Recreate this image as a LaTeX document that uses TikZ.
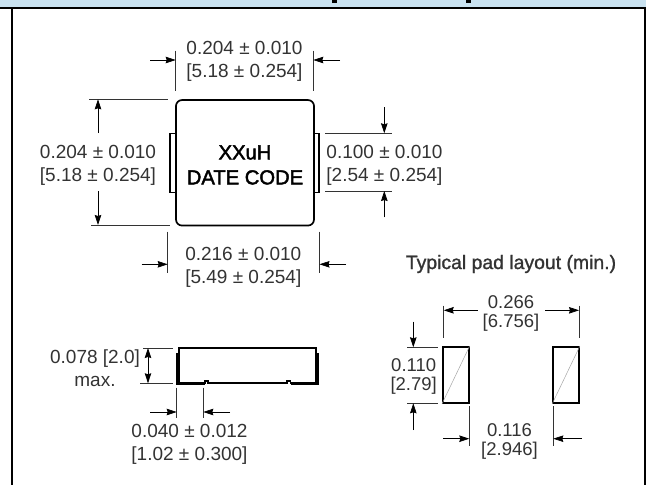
\documentclass[tikz,border=0pt]{standalone}
\usepackage{fontspec}
\setmainfont{Liberation Sans}
\newfontfamily\medfont[FakeBold=2.2]{Liberation Sans}
\newfontfamily\titlefont[FakeBold=1.2]{Liberation Sans}
\usetikzlibrary{arrows.meta}
\usetikzlibrary{positioning}
\definecolor{headblue}{HTML}{C9E2F0}
\definecolor{dimgrey}{HTML}{333333}
\begin{document}
\begin{tikzpicture}
        [x=1pt, y=-1pt,
         dim/.style={draw=none, fill=none, text=dimgrey, inner sep=0pt, align=center,
                     font=\fontsize{19}{23}\selectfont},
         tight/.style={dim, font=\fontsize{18.5}{19}\selectfont},
         head/.style={draw=none, inner sep=0pt, align=center, text=black,
                      font=\medfont\fontsize{20.2}{25}\selectfont},
         guide/.style={draw=dimgrey, line width=0.8pt},
         body/.style={draw=black, line width=1.7pt},
         pad/.style={draw=black, line width=1.6pt, fill=white, minimum width=26pt,
                     minimum height=56pt, inner sep=0pt},
         dimarrow/.style={-{Stealth[length=10pt,width=6.5pt,inset=1pt]}, draw=black, line width=0.7pt}]
        \useasboundingbox (0,0) rectangle (646,485);
        % frame
        \fill [headblue] (0,0) rectangle (646,7);
        \fill (331.7,0) rectangle (337.3,2.5);
        \fill (465.7,0) rectangle (470.7,2.5);
        \draw [line width=2pt] (0,7.5) -- (646,7.5);
        \draw [line width=2pt] (11.5,7) -- (11.5,485);
        \draw [line width=2pt] (645,7) -- (645,485);

        % top view
        \draw [line width=1.3pt] (176,133.5) -- (170,133.5) -- (170,192.5) -- (176,192.5);
        \draw [line width=1.3pt] (314,133.5) -- (319,133.5) -- (319,192.5) -- (314,192.5);
        \node [body, minimum width=138pt, minimum height=125.5pt, rounded corners=6pt, inner sep=0pt,
               fill=white] (case) at (245,162.8) { };
        \node [head] (mark) at (245,165) {XXuH\\DATE CODE};

        \node [dim] (topw) at (244.5,61) {0.204 ± 0.010\\{}[5.18 ± 0.254]};
        \coordinate (tl) at (175.7,50.5); \coordinate (tlb) at (175.7,90.5);
        \coordinate (tr) at (313.3,50.5); \coordinate (trb) at (313.3,90.5);
        \draw [guide] (tl) -- (tlb);
        \draw [guide] (tr) -- (trb);
        \coordinate (ta) at (150,60); \coordinate (tb) at (340,60);
        \draw [dimarrow] (ta) -- (tl |- ta);
        \draw [dimarrow] (tb) -- (tr |- tb);

        \node [dim] (leftw) at (98,165) {0.204 ± 0.010\\{}[5.18 ± 0.254]};
        \coordinate (la) at (89,99.3); \coordinate (lb) at (168,99.3);
        \coordinate (lc) at (91,225); \coordinate (ld) at (170,225);
        \draw [guide] (la) -- (lb);
        \draw [guide] (lc) -- (ld);
        \coordinate (lup) at (98,133); \coordinate (ldn) at (98,191);
        \draw [dimarrow] (lup) -- (lup |- la);
        \draw [dimarrow] (ldn) -- (ldn |- lc);

        \node [dim] (botw) at (243.3,267) {0.216 ± 0.010\\{}[5.49 ± 0.254]};
        \coordinate (bl) at (167.7,231.7); \coordinate (blb) at (167.7,272.7);
        \coordinate (br) at (319.5,231.7); \coordinate (brb) at (319.5,272.7);
        \draw [guide] (bl) -- (blb);
        \draw [guide] (br) -- (brb);
        \coordinate (ba) at (141.7,264.3); \coordinate (bb) at (346,264.3);
        \draw [dimarrow] (ba) -- (bl |- ba);
        \draw [dimarrow] (bb) -- (br |- bb);

        \node [dim] (tabw) at (384.5,165) {0.100 ± 0.010\\{}[2.54 ± 0.254]};
        \coordinate (ra) at (325,133.3); \coordinate (rb) at (391.7,133.3);
        \coordinate (rc) at (325,191); \coordinate (rd) at (391.7,191);
        \draw [guide] (ra) -- (rb);
        \draw [guide] (rc) -- (rd);
        \coordinate (rup) at (384.3,107.3); \coordinate (rdn) at (384.3,217.3);
        \draw [dimarrow] (rup) -- (rup |- ra);
        \draw [dimarrow] (rdn) -- (rdn |- rc);

        % side view
        \draw [body] (179,347.7) -- (179,382.7) -- (205,382.7) -- (205,381) -- (208,381) -- (208,382.7)
                     -- (287,382.7) -- (287,381) -- (290.5,381) -- (290.5,382.7) -- (316,382.7) -- (316,347.7) -- cycle;
        \draw [line width=2pt] (177,353) -- (177,384) -- (205,384);
        \draw [line width=2pt] (317.5,353) -- (317.5,384) -- (290.5,384);

        \node [dim] (height) at (95,368) {0.078 [2.0]\\max.};
        \coordinate (ha) at (143,348); \coordinate (hb) at (173.3,348);
        \coordinate (hc) at (140,383.3); \coordinate (hd) at (173.3,383.3);
        \draw [guide] (ha) -- (hb);
        \draw [guide] (hc) -- (hd);
        \draw [{Stealth[length=10pt,width=6.5pt,inset=1pt]}-{Stealth[length=10pt,width=6.5pt,inset=1pt]},
               draw=black, line width=0.7pt] (148,348) -- (148,383.3);

        \node [dim] (foot) at (189.5,444.5) {0.040 ± 0.012\\{}[1.02 ± 0.300]};
        \coordinate (fa) at (176.7,387.7); \coordinate (fb) at (176.7,417.7);
        \coordinate (fc) at (203.3,387.7); \coordinate (fd) at (203.3,417.7);
        \draw [guide] (fa) -- (fb);
        \draw [guide] (fc) -- (fd);
        \coordinate (fl) at (150,412); \coordinate (fr) at (230,412);
        \draw [dimarrow] (fl) -- (fa |- fl);
        \draw [dimarrow] (fr) -- (fc |- fr);

        % pad layout
        \node [dim, font=\titlefont\fontsize{19.4}{23}\selectfont] (title) at (511,264) {Typical pad layout (min.)};
        \node [pad] (padl) at (455.8,375) { };
        \node [pad] (padr) at (566,375) { };
        \draw [draw=black!35, line width=0.5pt] (padl.south west) -- (padl.north east);
        \draw [draw=black!35, line width=0.5pt] (padr.south west) -- (padr.north east);

        \node [tight] (span) at (511,313.3) {0.266\\{}[6.756]};
        \coordinate (sa) at (443.7,305.7); \coordinate (sb) at (443.7,337.7);
        \coordinate (sc) at (579,305.7); \coordinate (sd) at (579,337.7);
        \draw [guide] (sa) -- (sb);
        \draw [guide] (sc) -- (sd);
        \coordinate (sl) at (477.7,310.3); \coordinate (sr) at (545,310.3);
        \draw [dimarrow] (sl) -- (sa |- sl);
        \draw [dimarrow] (sr) -- (sc |- sr);

        \node [tight] (padh) at (413.7,376.5) {0.110\\{}[2.79]};
        \coordinate (pa) at (407.3,347.3); \coordinate (pb) at (438.3,347.3);
        \coordinate (pc) at (407.3,403.3); \coordinate (pd) at (438.3,403.3);
        \draw [guide] (pa) -- (pb);
        \draw [guide] (pc) -- (pd);
        \coordinate (pup) at (413.3,321.7); \coordinate (pdn) at (413.3,430);
        \draw [dimarrow] (pup) -- (pup |- pa);
        \draw [dimarrow] (pdn) -- (pdn |- pc);

        \node [tight] (gap) at (509.5,441) {0.116\\{}[2.946]};
        \coordinate (ga) at (469.3,406); \coordinate (gb) at (469.3,445.7);
        \coordinate (gc) at (553.3,406); \coordinate (gd) at (553.3,445.7);
        \draw [guide] (ga) -- (gb);
        \draw [guide] (gc) -- (gd);
        \coordinate (gl) at (443.3,438.7); \coordinate (gr) at (581.7,438.7);
        \draw [dimarrow] (gl) -- (ga |- gl);
        \draw [dimarrow] (gr) -- (gc |- gr);
        \end{tikzpicture}
\end{document}
